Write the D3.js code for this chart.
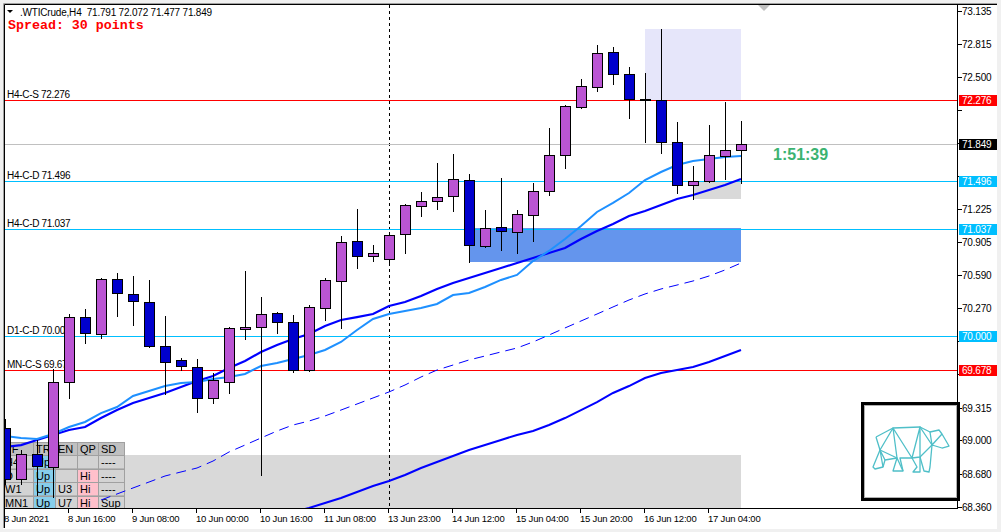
<!DOCTYPE html>
<html><head><meta charset="utf-8">
<script src="https://cdn.jsdelivr.net/npm/d3@7"></script>
<style>
html,body{margin:0;padding:0;background:#fff;overflow:hidden;}
svg{display:block;}
text{font-family:"Liberation Sans",Arial,sans-serif;}
text.mono{font-family:"Liberation Mono","Courier New",monospace;}
</style></head><body>
<svg id="c" width="1001" height="532"></svg>
<script>
// ---------- DATA ----------
const symbolTitle = ".WTICrude,H4  71.791 72.072 71.477 71.849";
const spreadText = "Spread: 30 points";
const countdownText = "1:51:39";

const openP  = [69.119,68.628,68.869,68.744,69.562,70.187,70.024,70.553,70.409,70.332,69.908,69.774,69.706,69.408,69.562,70.072,70.091,70.226,70.139,69.677,70.274,70.534,70.919,70.775,70.746,70.986,71.256,71.304,71.352,71.506,70.871,71.054,71.006,71.169,71.400,71.747,72.209,72.401,72.738,72.526,72.276,72.276,71.872,71.458,71.496,71.737,71.791];
const highP  = [69.206,68.907,69.004,69.687,70.216,70.264,70.563,70.611,70.582,70.544,70.197,69.793,69.783,69.648,70.091,70.630,70.380,70.236,70.207,70.303,70.563,70.967,71.227,70.880,71.006,71.275,71.391,71.670,71.756,71.564,71.217,71.525,71.217,71.477,72.007,72.228,72.478,72.805,72.786,72.594,72.536,72.959,72.064,71.641,72.035,72.257,72.072];
const lowP   = [68.580,68.580,68.474,68.455,69.408,69.937,69.985,70.197,70.110,69.899,69.446,69.677,69.273,69.360,69.456,69.976,68.667,70.033,69.658,69.668,70.159,70.082,70.659,70.726,70.698,70.803,71.160,71.227,71.208,70.717,70.861,70.832,70.803,70.919,71.362,71.622,72.199,72.363,72.430,72.103,71.872,71.766,71.381,71.323,71.487,71.516,71.477];
const closeP = [68.628,68.869,68.753,69.562,70.187,70.033,70.553,70.418,70.341,69.908,69.754,69.716,69.408,69.581,70.082,70.091,70.216,70.139,69.677,70.284,70.544,70.909,70.775,70.803,70.977,71.265,71.304,71.342,71.516,70.880,71.044,71.015,71.179,71.400,71.747,72.218,72.411,72.728,72.526,72.286,72.276,71.872,71.458,71.496,71.747,71.795,71.849];

const maFast = [69.042,69.023,69.013,69.061,69.129,69.177,69.263,69.321,69.427,69.475,69.523,69.552,69.562,69.591,69.610,69.639,69.716,69.745,69.783,69.822,69.870,69.947,70.062,70.168,70.216,70.245,70.274,70.313,70.399,70.418,70.476,70.544,70.592,70.726,70.823,70.938,71.063,71.198,71.285,71.381,71.506,71.583,71.650,71.689,71.708,71.727,71.737];
const maMid = [68.936,68.955,69.004,69.052,69.100,69.129,69.215,69.292,69.360,69.408,69.456,69.514,69.571,69.620,69.697,69.764,69.851,69.918,69.976,70.024,70.101,70.159,70.187,70.216,70.293,70.332,70.390,70.457,70.515,70.563,70.611,70.659,70.707,70.755,70.803,70.852,70.938,71.015,71.083,71.160,71.208,71.265,71.323,71.362,71.410,71.458,71.516];
const maDashStart = 6;
const maDash = [68.426,68.484,68.542,68.599,68.657,68.696,68.734,68.801,68.888,68.955,69.023,69.090,69.148,69.186,69.235,69.292,69.350,69.408,69.466,69.533,69.610,69.677,69.725,69.774,69.812,69.851,69.889,69.947,70.014,70.082,70.149,70.216,70.284,70.351,70.409,70.457,70.495,70.534,70.582,70.640,70.707];
const maSlowStart = 18;
const maSlow = [68.311,68.349,68.397,68.445,68.503,68.561,68.609,68.667,68.734,68.792,68.850,68.907,68.955,69.004,69.052,69.090,69.148,69.215,69.292,69.369,69.456,69.523,69.600,69.648,69.677,69.706,69.754,69.812,69.870];

const timeLabels = ["8 Jun 2021","8 Jun 16:00","9 Jun 08:00","10 Jun 00:00","10 Jun 16:00","11 Jun 08:00","13 Jun 23:00","14 Jun 12:00","15 Jun 04:00","15 Jun 20:00","16 Jun 12:00","17 Jun 04:00"];
const timeLabelEvery = 4;
const priceTicks = [73.135,72.815,72.500,72.180,71.865,71.545,71.225,70.905,70.590,70.270,69.955,69.635,69.315,69.000,68.680,68.360];

const levelNames  = ["H4-C-S","H4-C-D","H4-C-D","D1-C-D","MN-C-S"];
const levelValues = [72.276,71.496,71.037,70.000,69.678];
const levelColors = ["#ff0000","#00bfff","#00bfff","#00bfff","#ff0000"];
const bidPrice = 71.849;
const weekSeparatorIndex = 24;

// zones: [startIndex, endIndex, topPrice, bottomPrice]
const zoneLavender = [40, 46, 72.959, 72.276];
const zoneBlue     = [29, 46, 71.040, 70.717];
const zoneGraySmall= [43, 46, 71.496, 71.323];
const zoneGrayBig  = [-1, 46, 68.859, 68.300];

const tableHeader = ["TF","TR","EN","QP","SD"];
const tableRows = [["H4","Up","","","----"],["D","Up","","Hi","----"],["W1","Up","U3","Hi","----"],["MN1","Up","U7","Hi","Sup"]];

// ---------- DRAW ----------
const svg = d3.select("#c");
const W = 1001, H = 532;
const R = 957, B = 508;

const x = d3.scaleLinear().domain([0, 46]).range([5, 741]);
const y = d3.scaleLinear().domain([68.3491, 73.2385]).range([508, 0]);
const py = v => Math.round(y(v));

// window frame
svg.append("rect").attr("width", W).attr("height", H).attr("fill", "#f0f0f0");
svg.append("rect").attr("x", 3).attr("y", 3).attr("width", 994).attr("height", 526).attr("fill", "#fff");
svg.append("path").attr("d", "M3.5,528V3.5H997").attr("fill","none").attr("stroke","#a0a0a0");
svg.append("path").attr("d", "M4.5,528V4.5H997").attr("fill","none").attr("stroke","#000");

svg.append("defs").append("clipPath").attr("id", "plot")
  .append("rect").attr("x", 5).attr("y", 5).attr("width", R - 5).attr("height", B - 5);

const g = svg.append("g").attr("clip-path", "url(#plot)");

function zone(z, fill) {
  const x0 = z[0] < 0 ? 0 : x(z[0]);
  g.append("rect").attr("x", x0).attr("y", py(z[2]))
    .attr("width", x(z[1]) - x0).attr("height", py(z[3]) - py(z[2])).attr("fill", fill);
}
zone(zoneGrayBig, "#d9d9d9");
zone(zoneLavender, "#e6e6fa");
zone(zoneBlue, "#6495ed");
zone(zoneGraySmall, "#d9d9d9");

// week separator
g.append("line").attr("x1", x(weekSeparatorIndex) + 0.5).attr("x2", x(weekSeparatorIndex) + 0.5)
  .attr("y1", 5).attr("y2", B).attr("stroke", "#000").attr("stroke-dasharray", "3,3");

// bid line
g.append("line").attr("x1", 5).attr("x2", R).attr("y1", py(bidPrice) + 0.5).attr("y2", py(bidPrice) + 0.5)
  .attr("stroke", "#c0c0c0");

// levels
levelValues.forEach((v, i) => {
  g.append("line").attr("x1", 5).attr("x2", R).attr("y1", py(v) + 0.5).attr("y2", py(v) + 0.5)
    .attr("stroke", levelColors[i]);
  g.append("text").attr("x", 7).attr("y", py(v) - 2).attr("font-size", "10px")
    .attr("letter-spacing", "-0.3").attr("fill", "#000")
    .text(levelNames[i] + " " + v.toFixed(3));
});

// table
const colX = [2, 33, 55, 77, 98, 124];
const rowY0 = 442, rowH = 13.4;
const cellFill = (r, c) => {
  if (r === 0) return "#c0c0c0";
  if (c === 1) return "#87ceeb";
  if (c === 3 && tableRows[r-1][3] === "Hi" && r > 1) return "#ffc0cb";
  return "#d3d3d3";
};
const allRows = [tableHeader].concat(tableRows);
allRows.forEach((row, r) => {
  row.forEach((txt, c) => {
    g.append("rect").attr("x", colX[c] + 0.5).attr("y", Math.round(rowY0 + r * rowH) + 0.5)
      .attr("width", colX[c + 1] - colX[c]).attr("height", rowH)
      .attr("fill", cellFill(r, c)).attr("stroke", "#a0a0a0");
    g.append("text").attr("x", colX[c] + 3).attr("y", rowY0 + (r + 1) * rowH - 2.5)
      .attr("font-size", "11px").attr("fill", "#000").text(txt);
  });
});

// moving averages
const lineGen = start => d3.line().x((d, i) => x(i + start)).y(d => y(d));
g.append("path").datum(maSlow).attr("d", lineGen(maSlowStart)).attr("fill", "none")
  .attr("stroke", "#0000ff").attr("stroke-width", 2);
g.append("path").datum(maDash).attr("d", lineGen(maDashStart)).attr("fill", "none")
  .attr("stroke", "#0000ff").attr("stroke-width", 1).attr("stroke-dasharray", "10,6");
g.append("path").datum(maMid).attr("d", lineGen(0)).attr("fill", "none")
  .attr("stroke", "#0000ff").attr("stroke-width", 2.2);
g.append("path").datum(maFast).attr("d", lineGen(0)).attr("fill", "none")
  .attr("stroke", "#1e90ff").attr("stroke-width", 2);

// candles
const idx = d3.range(openP.length);
const cg = g.append("g");
idx.forEach(i => {
  const cx = x(i);
  cg.append("line").attr("x1", cx + 0.5).attr("x2", cx + 0.5)
    .attr("y1", py(highP[i])).attr("y2", py(lowP[i]) + 1)
    .attr("stroke", "#000");
  const top = py(Math.max(openP[i], closeP[i]));
  const bot = py(Math.min(openP[i], closeP[i]));
  const bull = closeP[i] > openP[i];
  if (bot - top < 2) {
    cg.append("rect").attr("x", cx - 5).attr("y", top - 1).attr("width", 11).attr("height", 2).attr("fill", "#000");
  } else {
    cg.append("rect").attr("x", cx - 4.5).attr("y", top + 0.5)
      .attr("width", 10).attr("height", bot - top)
      .attr("fill", bull ? "#ba55d3" : "#0000cd").attr("stroke", "#000");
  }
});

// right axis
const boxPrices = levelValues.concat([bidPrice]);
svg.append("line").attr("x1", R + 0.5).attr("x2", R + 0.5).attr("y1", 4).attr("y2", B + 1).attr("stroke", "#000");
priceTicks.forEach(v => {
  svg.append("line").attr("x1", R).attr("x2", R + 5).attr("y1", py(v) + 0.5).attr("y2", py(v) + 0.5).attr("stroke", "#000");
  const hidden = boxPrices.some(b => Math.abs(py(b) - py(v)) < 11);
  if (!hidden) {
    svg.append("text").attr("x", R + 5).attr("y", py(v) + 4).attr("font-size", "10px")
      .attr("letter-spacing", "-0.2").attr("fill", "#000").text(v.toFixed(3));
  }
});
function axisBox(v, fill) {
  svg.append("rect").attr("x", R + 2).attr("y", py(v) - 5).attr("width", 38).attr("height", 11).attr("fill", fill);
  svg.append("text").attr("x", R + 5).attr("y", py(v) + 4).attr("font-size", "10px")
    .attr("letter-spacing", "-0.2").attr("fill", "#fff").text(v.toFixed(3));
}
levelValues.forEach((v, i) => axisBox(v, levelColors[i]));
axisBox(bidPrice, "#000");

// bottom axis
svg.append("line").attr("x1", 4).attr("x2", R + 1).attr("y1", B + 0.5).attr("y2", B + 0.5).attr("stroke", "#000");
timeLabels.forEach((t, j) => {
  const tx = x(j * timeLabelEvery) - 1;
  svg.append("line").attr("x1", tx + 0.5).attr("x2", tx + 0.5).attr("y1", B).attr("y2", B + 5).attr("stroke", "#000");
  svg.append("text").attr("x", tx).attr("y", 522).attr("font-size", "9.5px")
    .attr("letter-spacing", "-0.2").attr("fill", "#000").text(t);
});

// header
svg.append("path").attr("d", "M7,10L13,10L10,13Z").attr("fill", "#000");
svg.append("text").attr("x", 20).attr("y", 16).attr("font-size", "10px").attr("letter-spacing", "-0.2")
  .attr("fill", "#000").style("white-space", "pre").text(symbolTitle);
svg.append("text").attr("class", "mono").attr("x", 8).attr("y", 29).attr("font-size", "13.3px").attr("font-weight", "bold")
  .attr("fill", "#ff0000").text(spreadText);

// countdown
svg.append("text").attr("x", 773).attr("y", 160).attr("font-size", "16px").attr("font-weight", "bold")
  .attr("fill", "#3cb371").text(countdownText);

// shift marker
svg.append("path").attr("d", "M758,5L770,5L764,11Z").attr("fill", "#c0c0c0");

// logo
svg.append("rect").attr("x", 862.5).attr("y", 403.5).attr("width", 96).attr("height", 96)
  .attr("fill", "#fff").attr("stroke", "#000").attr("stroke-width", 3);
svg.append("rect").attr("x", 864.5).attr("y", 405.5).attr("width", 92).attr("height", 92)
  .attr("fill", "none").attr("stroke", "#b0b0b0").attr("stroke-width", 1);
const bearLines = [
  [[876,437],[893,428],[920,427],[930,432],[939,430],[942,434],[949,446],[942,448],[932,445],[930,467],[929,472],[924,471],[920,457]],
  [[876,437],[880,450],[873,467],[875,469],[883,467],[885,460],[897,458],[893,471],[903,471],[900,458],[912,458],[917,467],[913,472],[920,472],[920,457]],
  [[893,428],[880,450],[897,458],[893,428],[912,458],[920,427],[920,457],[912,458]],
  [[920,427],[932,445],[920,457]],
  [[930,432],[932,445],[942,434]],
  [[883,467],[880,450],[885,460]],
  [[897,458],[903,471]]
];
bearLines.forEach(pts => {
  svg.append("path").attr("d", d3.line()(pts)).attr("fill", "none")
    .attr("stroke", "#4fbfc8").attr("stroke-width", 1.3).attr("stroke-linejoin", "round");
});
</script>
</body></html>
